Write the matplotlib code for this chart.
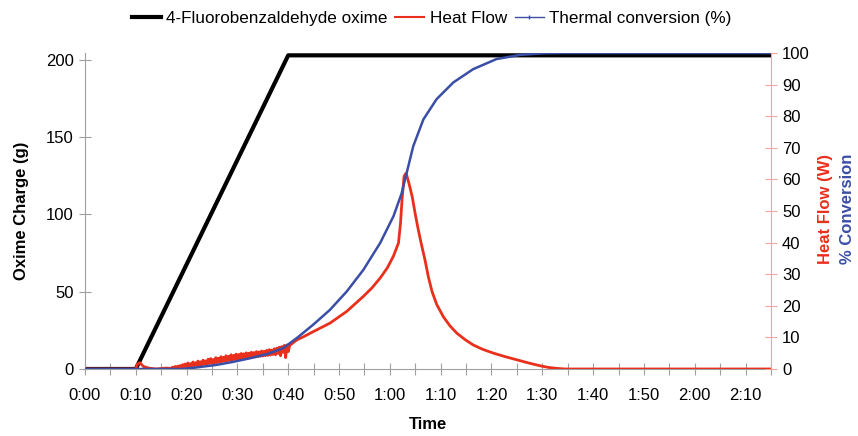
import matplotlib
matplotlib.use("Agg")
import matplotlib.pyplot as plt
from matplotlib.lines import Line2D
import numpy as np

plt.rcParams['font.family'] = ['Liberation Sans', 'DejaVu Sans']

# oxime charge (g) vs time (min)
charge_t = [0, 10, 40, 135]
charge_g = [0, 0, 203, 203]

# heat flow (W) vs time (min): quiet start, noisy dosing phase, then the exotherm
hf_t_start = [0, 10, 10.3, 10.8, 11.5, 12.5, 14, 16, 16.75]
hf_start = [0, 0, 1.5, 2.0, 0.8, 0.3, 0.0, 0.3, 0.2]

hf_t_noisy = list(np.arange(17.0, 40.01, 0.25))
hf_noisy = [0.2, 0.6, 0.3, 0.8, 0.3, 0.9, 0.4, 1.1, 0.5, 1.4, 0.6, 1.6,
            0.7, 1.9, 0.8, 1.7, 0.9, 2.2, 1.0, 2.0, 1.1, 2.5, 1.2, 2.3,
            1.2, 2.8, 1.5, 2.6, 1.5, 3.1, 1.7, 3.3, 1.8, 3.0, 1.9, 3.6,
            2.0, 3.4, 2.2, 3.9, 2.3, 3.7, 2.5, 4.2, 2.6, 4.0, 2.7, 4.5,
            2.8, 4.3, 3.0, 4.7, 3.1, 4.6, 3.2, 4.9, 3.3, 4.8, 3.4, 5.1,
            3.5, 5.0, 3.6, 5.3, 3.7, 5.2, 3.8, 5.5, 3.9, 5.4, 4.0, 5.7,
            4.1, 5.6, 4.2, 5.9, 4.3, 6.1, 4.4, 6.0, 4.6, 6.4, 4.5, 6.6,
            4.9, 6.9, 4.2, 7.1, 5.3, 7.5, 3.6, 7.6, 5.5]

hf_t_main = [40.3, 41.7, 43, 44.9, 46.5, 48.2, 50, 51.5, 53, 54.8, 56.5, 58.1, 59.5,
             60.7, 61.7, 62.1, 62.4, 62.8, 63.2, 63.8, 64.4, 65, 65.6, 66.2, 66.9,
             67.6, 68.3, 69.2, 70.5, 71.8, 73.2, 74.8, 76.4, 78.3, 80.4, 82.7, 85,
             87.3, 89.6, 91.2, 92.8, 94.5, 135]
hf_main = [7.5, 9.2, 10.2, 11.8, 13.1, 14.5, 16.5, 18.2, 20.4, 23, 25.7, 28.8, 32,
           35.7, 39.9, 46.2, 53.7, 61, 62, 58.5, 54.5, 49, 44, 39.5, 34.6,
           29, 24.5, 20.5, 16.6, 13.7, 11.3, 9.3, 7.6, 6.2, 5.0, 3.9, 2.9,
           1.9, 1.0, 0.5, 0.2, 0.0, 0.0]

# thermal conversion (%)
conv_t = [0, 19, 22, 25.9, 29, 32.5, 36, 39, 41.7, 44.9, 48.2, 51.5, 54.8, 58.1,
          60.7, 62.3, 63.3, 64.6, 66.6, 69.2, 72.5, 76.4, 81, 85.6, 90, 93.5, 135]
conv = [0, 0, 0.5, 1.3, 2.2, 3.4, 4.8, 6.6, 9.8, 14, 18.7, 24.5, 31.4, 39.9,
        48.3, 55.5, 62, 70.5, 79, 85.4, 90.7, 94.9, 98.1, 99.4, 99.9, 100, 100]

x_ticks = list(range(0, 136, 5))
x_labels = ["%d:%02d" % (m // 60, m % 60) if m % 10 == 0 else "" for m in x_ticks]

RED = '#e8301c'
BLUE = '#3b4ea6'
GREY = '#a0a0a0'
PINK = '#f2a596'

fig = plt.figure(figsize=(8.58, 4.36), dpi=100)
ax = fig.add_axes([0.099, 0.1537, 0.7996, 0.7247])
ax2 = ax.twinx()

ax.plot(charge_t, charge_g, color='black', lw=3.0, solid_capstyle='butt')

hf_t = hf_t_start + hf_t_noisy + hf_t_main
hf = hf_start + hf_noisy + hf_main
ax2.plot(hf_t, hf, color=RED, lw=2.0)
ax2.plot(conv_t, conv, color=BLUE, lw=1.8)

ax.set_xlim(0, 135)
ax.set_ylim(0, 204.5)
ax2.set_ylim(0, 100)

ax.set_xticks(x_ticks)
ax.set_xticklabels(x_labels)
ax.set_yticks([0, 50, 100, 150, 200])
ax2.set_yticks(range(0, 101, 10))

for s in ['top', 'right']:
    ax.spines[s].set_visible(False)
for s in ['top', 'left', 'bottom']:
    ax2.spines[s].set_visible(False)
ax.spines['left'].set_color(GREY)
ax.spines['bottom'].set_color(GREY)
ax2.spines['right'].set_color(PINK)

ax.tick_params(axis='both', direction='inout', length=8, color=GREY, labelsize=12, pad=4)
ax.tick_params(axis='x', pad=10)
ax2.tick_params(axis='y', direction='inout', length=8, color=PINK, labelsize=12, pad=4)

ax.set_xlabel('Time', fontsize=12, fontweight='bold', labelpad=10)
ax.set_ylabel('Oxime Charge (g)', fontsize=12, fontweight='bold', labelpad=12)

fig.text(0.962, 0.52, 'Heat Flow (W)', color=RED, fontsize=12, fontweight='bold',
         rotation=90, ha='center', va='center')
fig.text(0.988, 0.52, '% Conversion', color=BLUE, fontsize=12, fontweight='bold',
         rotation=90, ha='center', va='center')

handles = [Line2D([], [], color='black', lw=3.0),
           Line2D([], [], color=RED, lw=1.5),
           Line2D([], [], color=BLUE, lw=1.0, marker='|', markersize=3)]
labels = ['4-Fluorobenzaldehyde oxime', 'Heat Flow', 'Thermal conversion (%)']
fig.legend(handles, labels, loc='center', bbox_to_anchor=(0.503, 0.958), ncol=3,
           frameon=False, fontsize=12.3, handlelength=1.7, handletextpad=0.3,
           columnspacing=0.45, borderaxespad=0)

fig.savefig('out.png', dpi=100)
